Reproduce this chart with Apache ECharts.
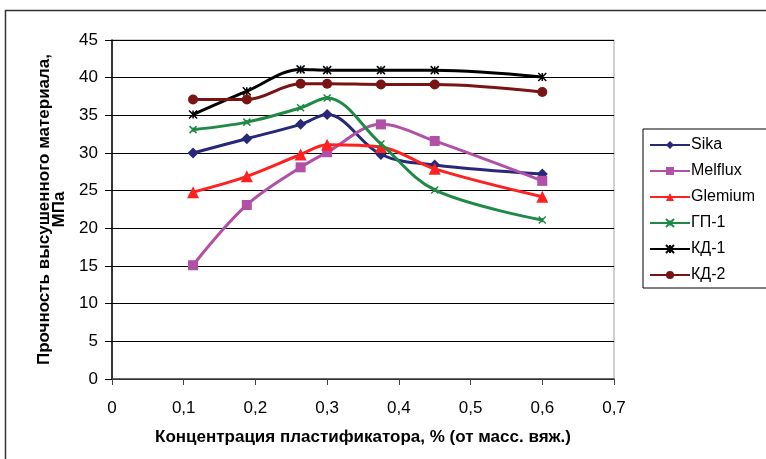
<!DOCTYPE html>
<html>
<head>
<meta charset="utf-8">
<script src="https://cdn.jsdelivr.net/npm/echarts@6/dist/echarts.min.js"></script>
<style>
  html, body { margin: 0; padding: 0; background: #fff; }
  #chart { width: 766px; height: 459px; }
</style>
</head>
<body>
<div id="chart"></div>
<script>
// Plasticizer concentration, % of binder mass
const concentration = [0.113, 0.188, 0.263, 0.3, 0.375, 0.45, 0.6];

// Strength of the dried material, MPa
const sika    = [30.0, 31.9, 33.8, 35.1, 29.8, 28.4, 27.2];
const melflux = [15.1, 23.1, 28.1, 30.1, 33.8, 31.6, 26.3];
const glemium = [24.8, 26.9, 29.8, 31.1, 30.8, 27.9, 24.2];
const gp1     = [33.1, 34.1, 36.0, 37.3, 31.2, 25.1, 21.1];
const kd1     = [35.1, 38.2, 41.1, 41.0, 41.0, 41.0, 40.1];
const kd2     = [37.1, 37.1, 39.2, 39.2, 39.1, 39.1, 38.1];

const seriesNames = ['Sika', 'Melflux', 'Glemium', 'ГП-1', 'КД-1', 'КД-2'];
const seriesValues = [sika, melflux, glemium, gp1, kd1, kd2];

const yTicks = { min: 0, max: 45, step: 5 };
const xTicks = { min: 0, max: 0.7, step: 0.1 };

const colors = ['#27287a', '#b24fa6', '#ff2020', '#1f8a45', '#000000', '#7a1414'];
const symbols = [
  'diamond',
  'rect',
  'triangle',
  'path://M0,0L10,10M10,0L0,10M5,2L5,8',
  'path://M0,0L10,10M10,0L0,10M5,0L5,10',
  'circle'
];
const symbolSizes = [11, 10, 12, 7, 8, 10];

const chart = echarts.init(document.getElementById('chart'));

const series = seriesNames.map((name, i) => ({
  name: name,
  type: 'line',
  smooth: 0.35,
  data: concentration.map((c, j) => [c, seriesValues[i][j]]),
  symbol: symbols[i],
  symbolSize: symbolSizes[i],
  showSymbol: true,
  lineStyle: { color: colors[i], width: 3 },
  itemStyle: {
    color: colors[i],
    borderColor: colors[i],
    borderWidth: symbols[i].startsWith('path') ? 1.5 : 0
  },
  emphasis: { disabled: true },
  z: 2 + i
}));

const font = 'Liberation Sans, Arial, sans-serif';

chart.setOption({
  animation: false,
  backgroundColor: '#ffffff',
  color: colors,
  graphic: [{
    type: 'rect',
    shape: { x: 5.5, y: 10.5, width: 780, height: 470 },
    style: { fill: 'none', stroke: '#333', lineWidth: 1.5 },
    silent: true,
    z: -10
  }],
  grid: {
    left: 112, right: 152, top: 40, bottom: 80,
    show: true,
    backgroundColor: '#ffffff',
    borderColor: '#a0a0a0',
    borderWidth: 1
  },
  legend: {
    orient: 'vertical',
    left: 643,
    top: 129,
    itemWidth: 40,
    itemHeight: 10,
    itemGap: 10,
    padding: [8, 40, 5, 6],
    borderColor: '#000',
    borderWidth: 1,
    backgroundColor: '#fff',
    textStyle: { fontFamily: font, fontSize: 16, color: '#000', padding: [0, 0, 0, -4] },
    data: seriesNames
  },
  xAxis: {
    type: 'value',
    min: xTicks.min,
    max: xTicks.max,
    interval: xTicks.step,
    name: 'Концентрация пластификатора, % (от масс. вяж.)',
    nameLocation: 'middle',
    nameGap: 50,
    nameTextStyle: { fontFamily: font, fontSize: 17, fontWeight: 'bold', color: '#000' },
    axisLine: { show: true, lineStyle: { color: '#444', width: 1.5 } },
    axisTick: { show: true, length: 6, lineStyle: { color: '#444' } },
    axisLabel: {
      fontFamily: font, fontSize: 17, color: '#000', margin: 21,
      formatter: v => String(+v.toFixed(1)).replace('.', ',')
    },
    splitLine: { show: false }
  },
  yAxis: {
    type: 'value',
    min: yTicks.min,
    max: yTicks.max,
    interval: yTicks.step,
    name: 'Прочность высушенного материала,\nМПа',
    nameLocation: 'middle',
    nameGap: 36,
    nameTextStyle: { fontFamily: font, fontSize: 17, fontWeight: 'bold', color: '#000', lineHeight: 15 },
    axisLine: { show: true, lineStyle: { color: '#000', width: 1.5 } },
    axisTick: { show: true, length: 7, lineStyle: { color: '#000' } },
    axisLabel: { fontFamily: font, fontSize: 17, color: '#000', margin: 14 },
    splitLine: { show: true, lineStyle: { color: '#000', width: 1 } }
  },
  series: series
});
</script>
</body>
</html>
